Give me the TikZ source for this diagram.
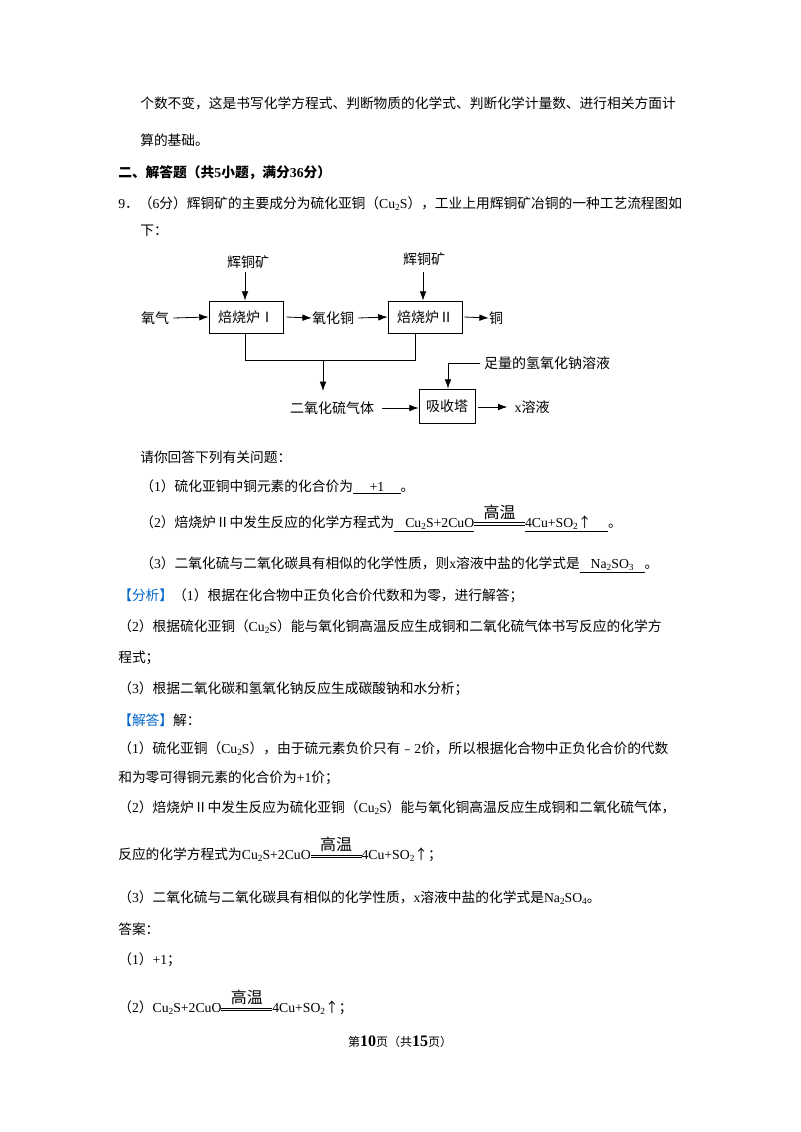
\documentclass[tikz,border=0pt]{standalone}
\usepackage{fontspec}
\setmainfont{Noto Sans CJK SC}
\newfontfamily\lat{Liberation Serif}
\usetikzlibrary{arrows.meta}
\newcommand\sbs[1]{\raisebox{-0.35ex}{\scriptsize #1}}
\newcommand\gw{\raisebox{0.25ex}{\ooalign{\rule{3.7em}{0.4pt}\cr\raisebox{0.35ex}{\rule{3.7em}{0.4pt}}\cr\hidewidth\raisebox{1.0ex}{\large 高温}\hidewidth\cr}}}
\newcommand\eqn{{\lat Cu\sbs{2}S+2CuO}\gw{\lat 4Cu+SO\sbs{2}}↑}
\definecolor{fxblue}{RGB}{0,102,204}
\begin{document}
\begin{tikzpicture}[x=0.75pt,y=-0.75pt,
  T/.style={anchor=west,inner sep=0pt,font=\fontsize{10.3}{12}\selectfont},
  D/.style={inner sep=0pt,font=\fontsize{10.5}{12}\selectfont},
  B/.style={draw,line width=0.6pt,inner sep=0pt,font=\fontsize{10.5}{12}\selectfont},
  ar/.style={-{Latex[length=7pt,width=5pt]},line width=0.6pt},
  ln/.style={line width=0.5pt}]
\useasboundingbox (0,0) rectangle (800,1132);
\fill[white] (0,0) rectangle (800,1132);
\node[T] (l1) at (140,103) {个数不变，这是书写化学方程式、判断物质的化学式、判断化学计量数、进行相关方面计};
\node[T] (l2) at (140,140) {算的基础。};
\node[T,font=\fontsize{10.3}{12}\selectfont\bfseries] (l3) at (118,173) {二、解答题（共{\lat\bfseries 5}小题，满分{\lat\bfseries 36}分）};
\node[T] (l4) at (118,204) {{\lat 9}．（{\lat 6}分）辉铜矿的主要成分为硫化亚铜（{\lat Cu\sbs{2}S}），工业上用辉铜矿冶铜的一种工艺流程图如};
\node[T] (l5) at (140,231) {下：};
% diagram
\node[B,minimum width=55.5pt,minimum height=24pt] (f1) at (246,317) {焙烧炉Ⅰ};
\node[B,minimum width=55.5pt,minimum height=24pt] (f2) at (425,317) {焙烧炉Ⅱ};
\node[B,minimum width=42pt,minimum height=25.5pt] (xs) at (447,406) {吸收塔};
\node[D] (k1) at (248,262) {辉铜矿};
\node[D] (k2) at (424,259) {辉铜矿};
\node[D] (o2) at (155,318) {氧气};
\node[D] (cuo) at (333,318) {氧化铜};
\node[D] (cu) at (496,318) {铜};
\node[D] (so2) at (332,408) {二氧化硫气体};
\node[D] (x) at (532,407) {{\lat x}溶液};
\node[D] (na) at (547,363) {足量的氢氧化钠溶液};
\draw[ar] (245,272) -- (f1.north -| 245,0);
\draw[ar] (423,272) -- (f2.north -| 423,0);
\draw[ar] (o2.east)++(4,0) -- (f1.west);
\draw[ar] (f1.east)++(3,0) -- (cuo.west);
\draw[ar] (cuo.east)++(4,0) -- (f2.west);
\draw[ar] (f2.east)++(2,0) -- (cu.west);
\coordinate (j1) at (245,360);
\coordinate (j2) at (415,360);
\coordinate (jm) at (323,360);
\draw[ln] (f1.south -| j1) -- (j1) -- (j2) -- (f2.south -| j2);
\draw[ar] (jm) -- (323,391);
\draw[ar] (so2.east)++(8,0) -- (xs.west |- so2.east);
\draw[ar] (xs.east |- x.west)++(3,0) -- ++(29,0);
\draw[ar] (na.west)++(-4,0) -| (xs.north -| 448,0);
% questions
\node[T] (q0) at (140,457) {请你回答下列有关问题：};
\node[T] (q1) at (140,487) {（{\lat 1}）硫化亚铜中铜元素的化合价为\underline{\hspace{1.2em}{\lat +1}\hspace{1.2em}}。};
\node[T] (q2) at (140,524) {（{\lat 2}）焙烧炉Ⅱ中发生反应的化学方程式为\underline{\hspace{0.8em}{\lat Cu\sbs{2}S+2CuO}}\gw\underline{{\lat 4Cu+SO\sbs{2}}↑\hspace{1.2em}}。};
\node[T] (q3) at (140,565) {（{\lat 3}）二氧化硫与二氧化碳具有相似的化学性质，则{\lat x}溶液中盐的化学式是\underline{\hspace{0.8em}{\lat Na\sbs{2}SO\sbs{3}}\hspace{0.8em}}。};
\node[T] (a1) at (118,596) {{\color{fxblue}【分析】}（{\lat 1}）根据在化合物中正负化合价代数和为零，进行解答；};
\node[T] (a2) at (118,627) {（{\lat 2}）根据硫化亚铜（{\lat Cu\sbs{2}S}）能与氧化铜高温反应生成铜和二氧化硫气体书写反应的化学方};
\node[T] (a3) at (118,658) {程式；};
\node[T] (a4) at (118,689) {（{\lat 3}）根据二氧化碳和氢氧化钠反应生成碳酸钠和水分析；};
\node[T] (s0) at (118,720) {{\color{fxblue}【解答】}解：};
\node[T] (s1) at (118,749) {（{\lat 1}）硫化亚铜（{\lat Cu\sbs{2}S}），由于硫元素负价只有﹣{\lat 2}价，所以根据化合物中正负化合价的代数};
\node[T] (s2) at (118,778) {和为零可得铜元素的化合价为{\lat +1}价；};
\node[T] (s3) at (118,808) {（{\lat 2}）焙烧炉Ⅱ中发生反应为硫化亚铜（{\lat Cu\sbs{2}S}）能与氧化铜高温反应生成铜和二氧化硫气体，};
\node[T] (s4) at (118,855) {反应的化学方程式为\eqn；};
\node[T] (s5) at (118,898) {（{\lat 3}）二氧化硫与二氧化碳具有相似的化学性质，{\lat x}溶液中盐的化学式是{\lat Na\sbs{2}SO\sbs{4}}。};
\node[T] (d0) at (118,929) {答案：};
\node[T] (d1) at (118,960) {（{\lat 1}）{\lat +1}；};
\node[T] (d2) at (118,1008) {（{\lat 2}）\eqn；};
\node[D,font=\fontsize{9}{11}\selectfont] (pg) at (400,1042) {第{\lat\bfseries\large 10}页（共{\lat\bfseries\large 15}页）};
\end{tikzpicture}
\end{document}
